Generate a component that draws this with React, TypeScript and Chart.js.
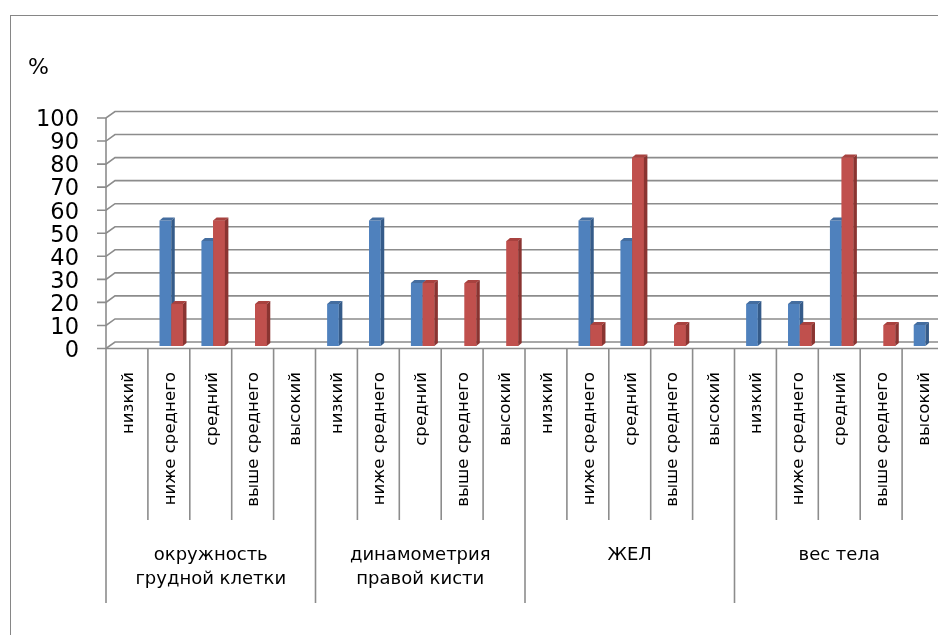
import React, { useEffect, useRef } from "react";
import { Chart, registerables } from "chart.js";

Chart.register(...registerables);

const groupLabels: string[][] = [
  ["окружность", "грудной клетки"],
  ["динамометрия", "правой кисти"],
  ["ЖЕЛ"],
  ["вес тела"],
];
const levels = ["низкий", "ниже среднего", "средний", "выше среднего", "высокий"];
const categories = groupLabels.flatMap((g) => levels.map((l) => l + "|" + g.join(" ")));
const blueValues = [0, 54.5, 45.5, 0, 0, 18.2, 54.5, 27.3, 0, 0, 0, 54.5, 45.5, 0, 0, 18.2, 18.2, 54.5, 0, 9.1];
const redValues = [0, 18.2, 54.5, 18.2, 0, 0, 0, 27.3, 27.3, 45.5, 0, 9.1, 81.8, 9.1, 0, 0, 9.1, 81.8, 9.1, 0];
const yTicks = [0, 10, 20, 30, 40, 50, 60, 70, 80, 90, 100];
const yUnit = "%";

const FONT = '"DejaVu Sans", Verdana, sans-serif';
const CANVAS_W = 960;
const CANVAS_H = 635;

const faceColors = [
  { top: "#446d9f", side: "#355b89" },
  { top: "#a8423f", side: "#8a3431" },
];

function drawFaces(ctx: any, chart: any, dsIndex: number) {
  const meta = chart.getDatasetMeta(dsIndex);
  const data = chart.data.datasets[dsIndex].data as number[];
  const c = faceColors[dsIndex];
  const dx = 3.5, dy = 3;
  meta.data.forEach((el: any, i: number) => {
    if (!data[i]) return;
    const p = el.getProps(["x", "y", "base", "width"], true);
    const x0 = p.x - p.width / 2;
    const x1 = p.x + p.width / 2;
    ctx.fillStyle = c.top;
    ctx.beginPath();
    ctx.moveTo(x0, p.y);
    ctx.lineTo(x0 + dx, p.y - dy);
    ctx.lineTo(x1 + dx, p.y - dy);
    ctx.lineTo(x1, p.y);
    ctx.closePath();
    ctx.fill();
    ctx.fillStyle = c.side;
    ctx.beginPath();
    ctx.moveTo(x1, p.y);
    ctx.lineTo(x1 + dx, p.y - dy);
    ctx.lineTo(x1 + dx, p.base - dy);
    ctx.lineTo(x1, p.base);
    ctx.closePath();
    ctx.fill();
  });
}

const bar3d = {
  id: "bar3d",
  afterDatasetsDraw(chart: any) {
    const ctx = chart.ctx;
    ctx.save();
    drawFaces(ctx, chart, 0);
    const redMeta = chart.getDatasetMeta(1);
    const redData = chart.data.datasets[1].data as number[];
    redMeta.data.forEach((el: any, i: number) => {
      if (redData[i]) el.draw(ctx, chart.chartArea);
    });
    drawFaces(ctx, chart, 1);
    ctx.restore();
  },
};

const decor = {
  id: "decor",
  beforeDatasetsDraw(chart: any) {
    const ctx = chart.ctx;
    const ys = chart.scales.y;
    const xs = chart.scales.x;
    const SH = 2.4;
    const n = categories.length;
    const catW = xs.width / n;
    const axisX = chart.chartArea.left - SH;
    const frontDY = 2.5;
    const backDX = 9, backDY = -6.5;
    const W = CANVAS_W;

    ctx.save();
    ctx.strokeStyle = "#868686";
    ctx.lineWidth = 1;
    ctx.strokeRect(10.5, 15.5, 3000, 3000);

    ctx.strokeStyle = "#8c8c8c";
    ctx.lineWidth = 1.6;
    yTicks.forEach((v) => {
      const yf = ys.getPixelForValue(v) + frontDY;
      const yb = yf + backDY;
      ctx.beginPath();
      ctx.moveTo(axisX - 9, yf);
      ctx.lineTo(axisX, yf);
      ctx.lineTo(axisX + backDX, yb);
      ctx.lineTo(W, yb);
      ctx.stroke();
    });
    const y0 = ys.getPixelForValue(0) + frontDY;
    const yTop = ys.getPixelForValue(100) + frontDY;
    ctx.beginPath();
    ctx.moveTo(axisX, y0);
    ctx.lineTo(W, y0);
    ctx.stroke();
    ctx.beginPath();
    ctx.moveTo(axisX, yTop);
    ctx.lineTo(axisX, 603);
    ctx.stroke();
    for (let i = 1; i <= n; i++) {
      const xd = axisX + i * catW;
      const isGroup = i % levels.length === 0;
      ctx.beginPath();
      ctx.moveTo(xd, y0);
      ctx.lineTo(xd, isGroup ? 603 : 520);
      ctx.stroke();
    }

    ctx.fillStyle = "#000";
    ctx.font = `22.5px ${FONT}`;
    ctx.textAlign = "right";
    ctx.textBaseline = "middle";
    yTicks.forEach((v) => {
      ctx.fillText(String(v), 79, ys.getPixelForValue(v) + frontDY + 2.5);
    });
    ctx.font = `22px ${FONT}`;
    ctx.textAlign = "left";
    ctx.fillText(yUnit, 28, 68);

    ctx.font = `16.6px ${FONT}`;
    categories.forEach((c, i) => {
      const label = c.split("|")[0];
      const cx = xs.getPixelForValue(i) - SH + 1.5;
      ctx.save();
      ctx.translate(cx, 372);
      ctx.rotate(-Math.PI / 2);
      ctx.textAlign = "right";
      ctx.textBaseline = "middle";
      ctx.fillText(label, 0, 0);
      ctx.restore();
    });

    ctx.font = `18px ${FONT}`;
    ctx.textAlign = "center";
    ctx.textBaseline = "middle";
    groupLabels.forEach((g, gi) => {
      const gx = axisX + (gi + 0.5) * levels.length * catW;
      g.forEach((line, li) => {
        ctx.fillText(line, gx, 555 + li * 24);
      });
    });
    ctx.restore();
  },
};

export default function App() {
  const ref = useRef<HTMLCanvasElement | null>(null);
  useEffect(() => {
    if (!ref.current) return;
    const chart = new Chart(ref.current, {
      type: "bar",
      data: {
        labels: categories,
        datasets: [
          {
            label: "blue",
            data: blueValues,
            backgroundColor: "#4f81bd",
            borderWidth: 0,
            categoryPercentage: 0.56,
            barPercentage: 1,
          },
          {
            label: "red",
            data: redValues,
            backgroundColor: "#c0504d",
            borderWidth: 0,
            categoryPercentage: 0.56,
            barPercentage: 1,
          },
        ],
      },
      options: {
        animation: false,
        responsive: false,
        devicePixelRatio: 1,
        layout: { padding: { left: 108.4, right: CANVAS_W - 946.4, top: 115.5, bottom: CANVAS_H - 346 } },
        scales: {
          x: { display: false, grid: { display: false } },
          y: { display: false, min: 0, max: 100, ticks: { stepSize: 10 } },
        },
        plugins: { legend: { display: false }, tooltip: { enabled: false } },
      },
      plugins: [decor, bar3d],
    });
    return () => chart.destroy();
  }, []);
  return (
    <div
      style={{
        position: "fixed",
        left: 0,
        top: 0,
        width: 938,
        height: 635,
        overflow: "hidden",
        background: "#fff",
      }}
    >
      <canvas ref={ref} width={CANVAS_W} height={CANVAS_H} style={{ width: CANVAS_W, height: CANVAS_H, display: "block" }} />
    </div>
  );
}
